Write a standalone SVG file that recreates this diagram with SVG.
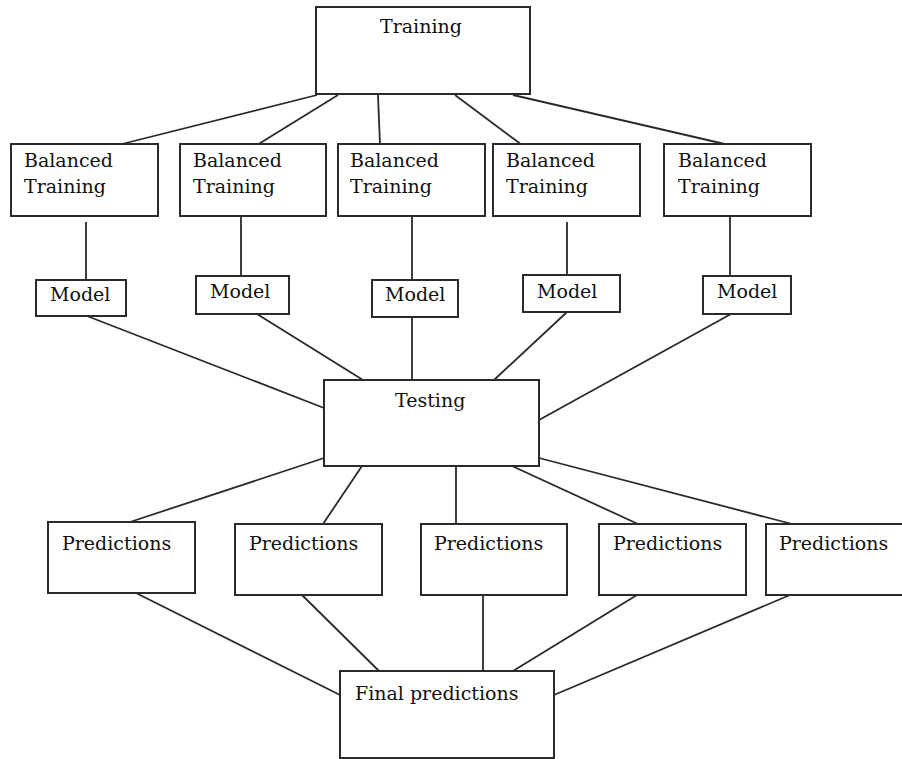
<svg xmlns="http://www.w3.org/2000/svg" width="902" height="759" viewBox="0 0 902 759">
<style>
rect{fill:#fff;stroke:#2a2a2a;stroke-width:2}
line{stroke:#2a2a2a;stroke-width:1.8}
text{font-family:"DejaVu Serif","Liberation Serif",serif;font-size:19px;fill:#111}
</style>
<rect x="0" y="0" width="902" height="759" style="stroke:none;fill:#fff"/>
<g id="connectors">
<line x1="317" y1="95" x2="118" y2="145"/>
<line x1="338" y1="95" x2="257" y2="145"/>
<line x1="378" y1="95" x2="380" y2="145"/>
<line x1="455" y1="95" x2="522" y2="145"/>
<line x1="513" y1="95" x2="729" y2="145"/>
<line x1="86" y1="222" x2="86" y2="280"/>
<line x1="241" y1="216" x2="241" y2="277"/>
<line x1="412" y1="216" x2="412" y2="280"/>
<line x1="567" y1="222" x2="567" y2="275"/>
<line x1="730" y1="216" x2="730" y2="276"/>
<line x1="87" y1="316" x2="324" y2="408"/>
<line x1="257" y1="314" x2="363" y2="380"/>
<line x1="412" y1="317" x2="412" y2="380"/>
<line x1="567" y1="312" x2="494" y2="380"/>
<line x1="731" y1="314" x2="539" y2="420"/>
<line x1="324" y1="458" x2="130" y2="522"/>
<line x1="362" y1="466" x2="323" y2="524"/>
<line x1="456" y1="466" x2="456" y2="524"/>
<line x1="512" y1="466" x2="638" y2="524"/>
<line x1="539" y1="458" x2="792" y2="524"/>
<line x1="136" y1="593" x2="340" y2="695"/>
<line x1="302" y1="595" x2="379" y2="671"/>
<line x1="483" y1="595" x2="483" y2="671"/>
<line x1="637" y1="595" x2="513" y2="671"/>
<line x1="790" y1="595" x2="554" y2="695"/>
</g>
<g id="training"><rect x="316" y="7" width="214" height="87"/><text x="380" y="33">Training</text></g>
<g id="bal1"><rect x="11" y="144" width="147" height="72"/><text x="24" y="167">Balanced</text><text x="24" y="193">Training</text></g>
<g id="bal2"><rect x="180" y="144" width="146" height="72"/><text x="193" y="167">Balanced</text><text x="193" y="193">Training</text></g>
<g id="bal3"><rect x="338" y="144" width="147" height="72"/><text x="350" y="167">Balanced</text><text x="350" y="193">Training</text></g>
<g id="bal4"><rect x="493" y="144" width="147" height="72"/><text x="506" y="167">Balanced</text><text x="506" y="193">Training</text></g>
<g id="bal5"><rect x="664" y="144" width="147" height="72"/><text x="678" y="167">Balanced</text><text x="678" y="193">Training</text></g>
<g id="model1"><rect x="36" y="280" width="90" height="36"/><text x="50" y="301">Model</text></g>
<g id="model2"><rect x="196" y="276" width="93" height="38"/><text x="210" y="298">Model</text></g>
<g id="model3"><rect x="372" y="280" width="86" height="37"/><text x="385" y="301">Model</text></g>
<g id="model4"><rect x="523" y="275" width="97" height="37"/><text x="537" y="298">Model</text></g>
<g id="model5"><rect x="703" y="276" width="88" height="38"/><text x="717" y="298">Model</text></g>
<g id="testing"><rect x="324" y="380" width="215" height="86"/><text x="395" y="407">Testing</text></g>
<g id="pred1"><rect x="48" y="522" width="147" height="71"/><text x="62" y="550">Predictions</text></g>
<g id="pred2"><rect x="235" y="524" width="147" height="71"/><text x="249" y="550">Predictions</text></g>
<g id="pred3"><rect x="421" y="524" width="146" height="71"/><text x="434" y="550">Predictions</text></g>
<g id="pred4"><rect x="599" y="524" width="147" height="71"/><text x="613" y="550">Predictions</text></g>
<g id="pred5"><rect x="766" y="524" width="146" height="71"/><text x="779" y="550">Predictions</text></g>
<g id="final"><rect x="340" y="671" width="214" height="87"/><text x="355" y="700">Final predictions</text></g>
</svg>
